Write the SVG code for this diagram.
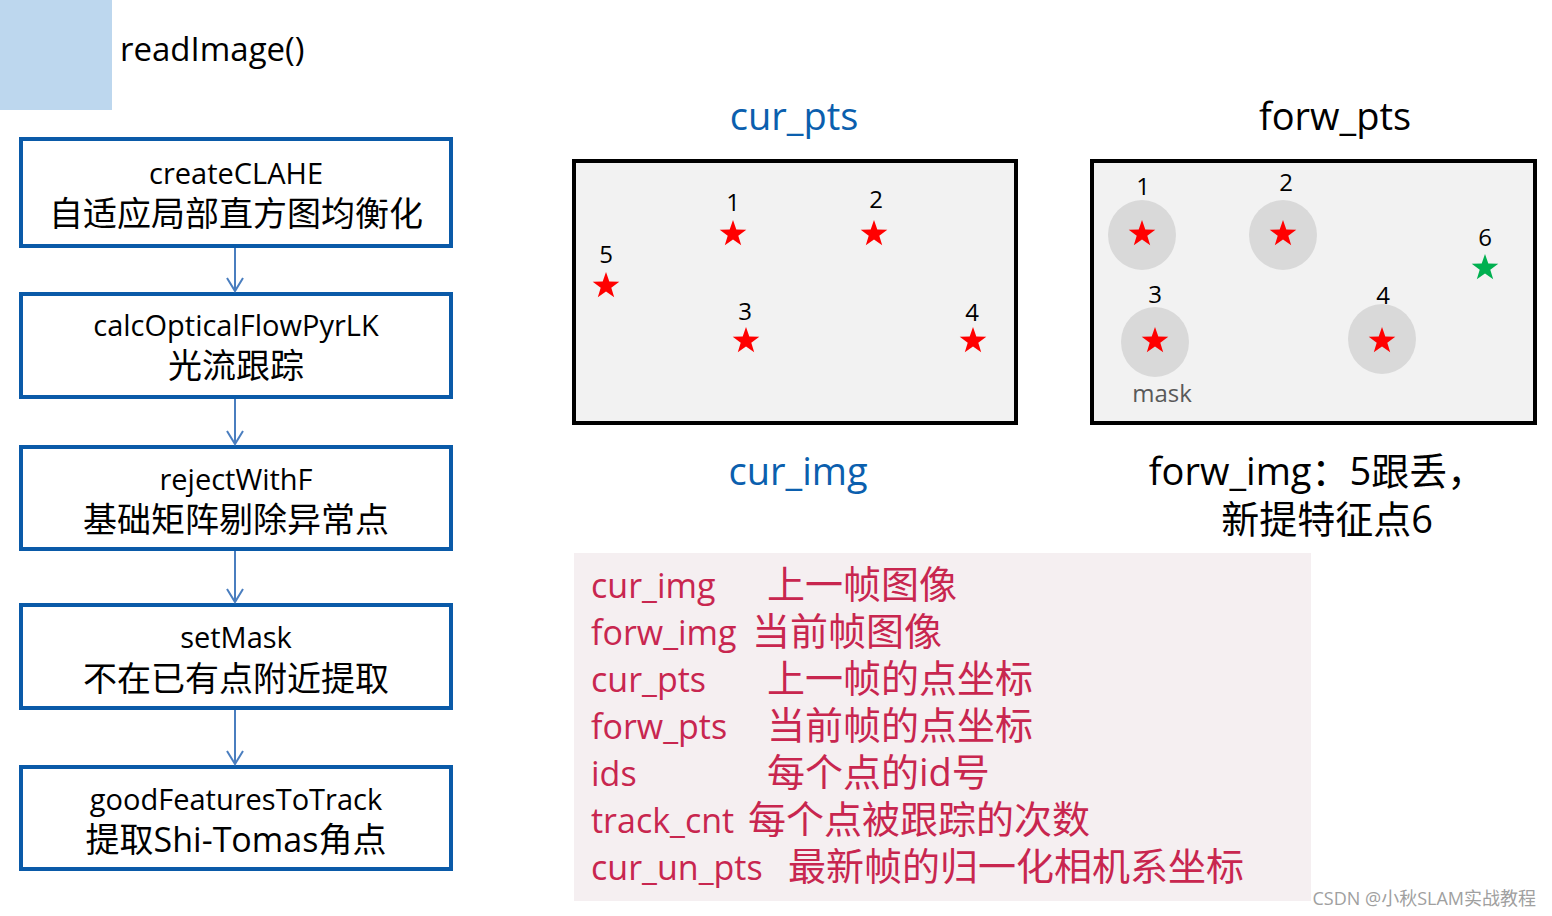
<svg xmlns="http://www.w3.org/2000/svg" width="1552" height="916" viewBox="0 0 1552 916">
<style>
text{font-family:"Open Sans","Noto Sans","Noto Sans CJK SC",sans-serif}
.box{fill:#fff;stroke:#0a5aa8;stroke-width:4}
.bt{font-size:29px;fill:#000;text-anchor:middle}
.bc{font-size:34px;fill:#000;text-anchor:middle}
.con{stroke:#4a7ebf;stroke-width:2;fill:none}
.panel{fill:#f2f2f2;stroke:#000;stroke-width:4}
.num{font-size:24px;fill:#000;text-anchor:middle}
.mc{fill:#d9d9d9}
.lg{font-size:34px;fill:#c8264f}
.lc{font-size:38px;fill:#c8264f}
</style>
<defs>
<path id="star" d="M0,-14 L3.3,-4.5 L13.3,-4.3 L5.3,1.7 L8.2,11.3 L0,5.6 L-8.2,11.3 L-5.3,1.7 L-13.3,-4.3 L-3.3,-4.5Z"/>
<path id="ah" d="M-8,-13 L0,0 L8,-13"/>
</defs>
<rect x="0" y="0" width="112" height="110" fill="#bdd7ee"/>
<text x="120" y="61" font-size="33" fill="#000">readImage()</text>
<g id="n1"><rect class="box" x="21" y="139" width="430" height="107"/><text class="bt" x="236" y="184">createCLAHE</text><text class="bc" x="236" y="226">自适应局部直方图均衡化</text></g>
<g id="n2"><rect class="box" x="21" y="294" width="430" height="103"/><text class="bt" x="236" y="336">calcOpticalFlowPyrLK</text><text class="bc" x="236" y="378">光流跟踪</text></g>
<g id="n3"><rect class="box" x="21" y="447" width="430" height="102"/><text class="bt" x="236" y="490">rejectWithF</text><text class="bc" x="236" y="532">基础矩阵剔除异常点</text></g>
<g id="n4"><rect class="box" x="21" y="605" width="430" height="103"/><text class="bt" x="236" y="648">setMask</text><text class="bc" x="236" y="691">不在已有点附近提取</text></g>
<g id="n5"><rect class="box" x="21" y="767" width="430" height="102"/><text class="bt" x="236" y="810">goodFeaturesToTrack</text><text class="bc" x="236" y="852">提取Shi-Tomas角点</text></g>
<g id="connectors" class="con">
<line x1="235" y1="248" x2="235" y2="291"/><use href="#ah" x="235" y="291"/>
<line x1="235" y1="399" x2="235" y2="444"/><use href="#ah" x="235" y="444"/>
<line x1="235" y1="551" x2="235" y2="602"/><use href="#ah" x="235" y="602"/>
<line x1="235" y1="710" x2="235" y2="764"/><use href="#ah" x="235" y="764"/>
</g>

<text x="794" y="130" font-size="38" fill="#0b5fae" text-anchor="middle">cur_pts</text>
<text x="1335" y="130" font-size="38" fill="#000" text-anchor="middle">forw_pts</text>
<g id="curpanel">
<rect class="panel" x="574" y="161" width="442" height="262"/>
<g fill="#f00">
<use href="#star" x="733" y="234"/><use href="#star" x="874" y="234"/><use href="#star" x="606" y="286"/><use href="#star" x="746" y="341"/><use href="#star" x="973" y="341"/>
</g>
<text class="num" x="733" y="211">1</text><text class="num" x="876" y="208">2</text><text class="num" x="606" y="263">5</text><text class="num" x="745" y="320">3</text><text class="num" x="972" y="321">4</text>
</g>
<g id="forwpanel">
<rect class="panel" x="1092" y="161" width="443" height="262"/>
<ellipse class="mc" cx="1142" cy="235" rx="34" ry="35"/><ellipse class="mc" cx="1283" cy="235" rx="34" ry="35"/><ellipse class="mc" cx="1155" cy="342" rx="34" ry="35"/><ellipse class="mc" cx="1382" cy="339" rx="34" ry="35"/>
<g fill="#f00"><use href="#star" x="1142" y="234"/><use href="#star" x="1283" y="234"/><use href="#star" x="1155" y="341"/><use href="#star" x="1382" y="341"/></g>
<use href="#star" x="1485" y="268" fill="#00b050"/>
<text class="num" x="1143" y="195">1</text><text class="num" x="1286" y="191">2</text><text class="num" x="1485" y="246">6</text><text class="num" x="1155" y="303">3</text><text class="num" x="1383" y="304">4</text>
<text x="1162" y="402" font-size="24" fill="#595959" text-anchor="middle">mask</text>
</g>
<text x="798" y="485" font-size="38" fill="#0b5fae" text-anchor="middle">cur_img</text>
<text x="1317" y="485" font-size="38" fill="#000" text-anchor="middle">forw_img：5跟丢，</text>
<text x="1327" y="533" font-size="38" fill="#000" text-anchor="middle">新提特征点6</text>
<g id="legend">
<rect x="574" y="553" width="737" height="348" fill="#f5eff1"/>
<text class="lg" x="591" y="598">cur_img</text><text class="lc" x="767" y="598">上一帧图像</text>
<text class="lg" x="591" y="645">forw_img</text><text class="lc" x="752" y="645">当前帧图像</text>
<text class="lg" x="591" y="692">cur_pts</text><text class="lc" x="767" y="692">上一帧的点坐标</text>
<text class="lg" x="591" y="739">forw_pts</text><text class="lc" x="767" y="739">当前帧的点坐标</text>
<text class="lg" x="591" y="786">ids</text><text class="lc" x="767" y="786">每个点的id号</text>
<text class="lg" x="591" y="833">track_cnt</text><text class="lc" x="748" y="833">每个点被跟踪的次数</text>
<text class="lg" x="591" y="880">cur_un_pts</text><text class="lc" x="788" y="880">最新帧的归一化相机系坐标</text>
</g>
<text x="1536" y="905" font-size="18" fill="#a0a0a0" text-anchor="end">CSDN @小秋SLAM实战教程</text>
</svg>
